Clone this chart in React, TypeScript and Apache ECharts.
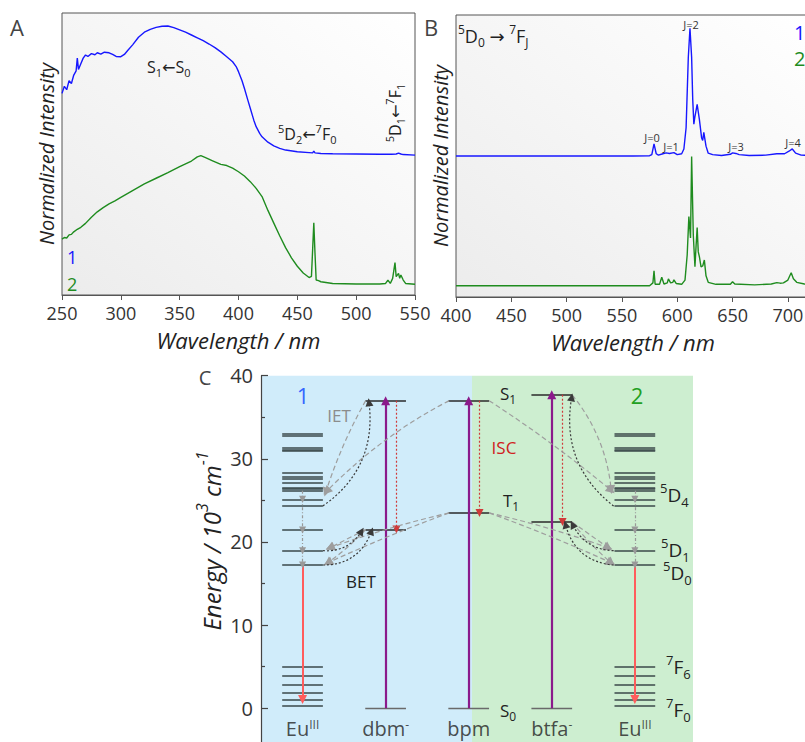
import { useEffect, useRef } from "react";
import * as echarts from "echarts";

// ---------- Panel A: excitation spectra ----------
const excNm1 = [250, 252, 254, 256, 258, 260, 262, 263, 264, 266, 268, 270, 272, 275, 278, 280, 283, 286, 290, 293, 296, 300, 303, 306, 310, 315, 320, 325, 330, 335, 340, 345, 350, 355, 360, 365, 370, 375, 380, 385, 390, 395, 398, 400, 403, 405, 408, 410, 413, 415, 418, 420, 425, 430, 435, 440, 450, 460, 463, 464, 465, 470, 480, 500, 520, 530, 534, 536, 538, 540, 550];
const excI1 = [71.5, 74.0, 72.8, 76.0, 75.0, 78.0, 79.5, 84.0, 80.0, 82.0, 84.0, 85.1, 84.6, 85.6, 85.2, 85.9, 85.4, 86.1, 85.9, 85.3, 84.6, 84.5, 85.3, 86.8, 88.7, 91.4, 93.2, 94.2, 94.9, 95.3, 95.4, 94.8, 94.0, 93.2, 92.2, 91.2, 90.2, 89.0, 87.7, 86.2, 84.5, 82.7, 81.0, 79.2, 76.0, 73.3, 69.0, 66.2, 62.0, 59.7, 57.3, 56.1, 54.2, 52.9, 52.0, 51.4, 50.8, 50.5, 50.4, 51.0, 50.4, 50.2, 50.1, 50.0, 49.9, 49.9, 50.0, 50.3, 50.0, 49.8, 49.6];
const excNm2 = [250, 252, 254, 256, 258, 260, 263, 266, 270, 275, 280, 285, 290, 295, 300, 310, 320, 330, 340, 350, 360, 365, 368, 372, 378, 385, 390, 395, 400, 405, 410, 415, 420, 425, 430, 435, 440, 445, 450, 455, 460, 462, 463, 464, 465, 466, 468, 470, 480, 500, 520, 525, 527, 529, 531, 533, 534, 536, 537, 538, 540, 542, 550];
const excI2 = [19.8, 20.4, 20.2, 21.3, 21.5, 22.4, 23.3, 24.0, 25.4, 27.6, 29.5, 31.0, 32.3, 33.4, 34.6, 37.0, 39.4, 41.4, 43.4, 45.5, 47.5, 49.0, 49.4, 48.7, 47.6, 46.3, 45.9, 45.0, 43.7, 42.2, 40.2, 37.8, 34.9, 30.0, 25.5, 21.0, 16.8, 13.2, 10.2, 7.8, 6.2, 6.6, 16.0, 25.6, 14.9, 5.3, 5.1, 4.7, 4.1, 3.9, 3.9, 4.1, 5.3, 4.1, 5.9, 11.5, 6.5, 7.7, 5.9, 7.1, 5.3, 4.1, 3.8];

// ---------- Panel B: emission spectra ----------
const emNm1 = [400, 560, 575, 577, 579, 581, 583, 587, 590, 593, 597, 600, 604, 606, 608, 610, 611.5, 613, 614, 615, 616, 618, 620, 622, 623, 624, 626, 628, 632, 640, 648, 650, 653, 656, 665, 680, 690, 697, 701, 704, 707, 712, 720];
const emI1 = [50.0, 50.0, 50.1, 50.5, 54.3, 50.8, 50.3, 50.8, 51.1, 50.9, 51.2, 50.5, 50.8, 52.5, 60.0, 85.0, 95.3, 85.0, 70.0, 61.3, 64.0, 68.3, 63.0, 56.5, 55.5, 58.4, 53.5, 51.0, 50.5, 50.2, 50.6, 51.1, 50.9, 50.5, 50.2, 50.3, 50.8, 50.8, 51.7, 52.5, 51.0, 50.3, 50.2];
const emNm2 = [400, 575, 578, 579, 580, 584, 586, 588, 591, 592, 594, 596, 597, 599, 604, 607, 609, 610.5, 612, 613, 614.5, 616, 617, 618, 619, 620, 621.5, 623, 624.5, 626, 628, 635, 648, 650, 652, 670, 685, 690, 693, 696, 700, 703, 705, 708, 715, 720];
const emI2 = [4.0, 4.0, 5.0, 9.3, 4.5, 4.5, 7.0, 4.6, 5.0, 6.4, 5.0, 5.2, 6.1, 4.8, 4.5, 6.0, 15.0, 28.5, 20.9, 49.8, 22.0, 10.7, 18.0, 24.6, 16.0, 14.3, 10.7, 11.0, 13.1, 7.5, 5.2, 4.5, 4.5, 5.4, 4.6, 4.3, 4.6, 5.1, 4.9, 5.0, 6.0, 8.6, 6.5, 5.2, 4.6, 4.3];

const jLabels = ["J=0", "J=1", "J=2", "J=3", "J=4"];
const xTicksA = [250, 300, 350, 400, 450, 500, 550];
const xTicksB = [400, 450, 500, 550, 600, 650, 700];

// ---------- Panel C: energy level diagram (10^3 cm^-1) ----------
const columnX = [1, 3, 5, 7, 9];
const columnLabels = ["Eu{sup|III}", "dbm{sup|-}", "bpm", "btfa{sup|-}", "Eu{sup|III}"];
const euLevels = [33.07, 32.83, 31.3, 31.15, 30.94, 28.33, 27.85, 27.61, 27.13, 26.58, 26.37, 26.17, 25.13, 24.33, 21.44, 18.96, 17.23, 5.0, 3.92, 2.84, 1.88, 1.04, 0.31];
const euColumns = [1, 9];
const ligandX = [3, 5, 7];
const ligandS1 = [37.0, 37.0, 37.7];
const ligandT1 = [21.5, 23.5, 22.4];
const ligandS0 = [0, 0, 0];
const euCascade = [26.17, 25.13, 21.44, 18.96, 17.23];
const euEmissionFrom = 17.23;
const euEmissionTo = 1.04;
// [x1, y1, x2, y2, curveness]
const ietArrows = [
  [2.52, 37.0, 1.56, 26.0, -0.05],
  [4.53, 37.0, 1.58, 26.1, -0.08],
  [2.52, 21.5, 1.66, 19.3, 0.0],
  [2.52, 21.5, 1.61, 17.5, 0.05],
  [4.53, 23.5, 1.66, 19.3, -0.03],
  [4.53, 23.5, 1.61, 17.5, -0.02],
  [7.49, 37.7, 8.43, 26.3, 0.15],
  [5.49, 37.0, 8.43, 26.2, 0.03],
  [7.49, 22.4, 8.36, 19.3, 0.0],
  [7.49, 22.4, 8.43, 17.5, -0.05],
  [5.49, 23.5, 8.36, 19.3, 0.03],
  [5.49, 23.5, 8.43, 17.5, 0.02],
];
const betArrows = [
  [1.49, 24.33, 2.6, 36.8, -0.3],
  [1.49, 18.96, 2.42, 21.3, -0.3],
  [1.49, 17.23, 2.66, 21.3, -0.35],
  [8.49, 24.33, 7.48, 37.4, 0.3],
  [8.49, 18.96, 7.5, 22.1, 0.3],
  [8.49, 17.23, 7.33, 22.1, 0.35],
];

const FONT = "'Open Sans', 'DejaVu Sans', sans-serif";
const BLUE = "#1717ff";
const GREEN = "#1f8c1f";

const zip = (xs: number[], ys: number[]) => xs.map((x, i) => [x, ys[i]]);

const rich = (size: number, italic: boolean) => {
  const fs = italic ? "italic" : "normal";
  return {
    n: { fontSize: size, lineHeight: Math.round(size * 1.4), fontFamily: FONT, fontStyle: fs },
    sub: { fontSize: Math.round(size * 0.68), lineHeight: Math.round(size * 0.75), verticalAlign: "bottom", fontFamily: FONT, fontStyle: fs },
    sup: { fontSize: Math.round(size * 0.68), lineHeight: Math.round(size * 0.75), verticalAlign: "top", fontFamily: FONT, fontStyle: fs },
  };
};

function T(x: number, y: number, text: string, size: number, color: string, align = "left", rotation = 0, italic = false) {
  return {
    type: "text",
    x,
    y,
    rotation,
    z: 50,
    style: {
      text,
      fill: color,
      fontSize: size,
      fontFamily: FONT,
      fontStyle: italic ? "italic" : "normal",
      align,
      verticalAlign: "middle",
      rich: rich(size, italic),
    },
  };
}

export default function App() {
  const ref = useRef<HTMLDivElement>(null);
  useEffect(() => {
    if (!ref.current) return;
    const chart = echarts.init(ref.current, undefined, { renderer: "svg" });
    const mkBg = () =>
      new echarts.graphic.LinearGradient(0, 1, 1, 0, [
        { offset: 0, color: "#ececec" },
        { offset: 1, color: "#ffffff" },
      ]);
    const spectrumX = (grid: number, min: number, max: number, ticks: number[]) => ({
      type: "value",
      gridIndex: grid,
      min,
      max,
      interval: 50,
      axisLine: { show: true, lineStyle: { color: "#555", width: 1 } },
      axisTick: { show: true, inside: false, length: 5, lineStyle: { color: "#555" } },
      axisLabel: {
        color: "#333",
        fontSize: 18,
        fontFamily: FONT,
        margin: 9,
        showMaxLabel: ticks.indexOf(max) >= 0,
        formatter: (v: number) => (ticks.indexOf(v) >= 0 ? String(v) : ""),
      },
      splitLine: { show: false },
      name: "Wavelength / nm",
      nameLocation: "middle",
      nameGap: 34,
      nameTextStyle: { fontSize: 22, fontStyle: "italic", color: "#222", fontFamily: FONT },
    });
    const spectrumY = (grid: number) => ({
      type: "value",
      gridIndex: grid,
      min: 0,
      max: 100,
      axisLine: { show: false },
      axisTick: { show: false },
      axisLabel: { show: false },
      splitLine: { show: false },
      name: "Normalized Intensity",
      nameLocation: "middle",
      nameRotate: 90,
      nameGap: 6,
      nameTextStyle: { fontSize: 20, fontStyle: "italic", color: "#222", fontFamily: FONT },
    });

    const cLines = (name: string, data: any[], lineStyle: any, symbol: any, symbolSize: any, z = 10) => ({
      type: "lines",
      name,
      coordinateSystem: "cartesian2d",
      xAxisIndex: 2,
      yAxisIndex: 2,
      z,
      silent: true,
      symbol,
      symbolSize,
      lineStyle: { opacity: 1, ...lineStyle },
      data,
    });

    const levelData: any[] = [];
    euColumns.forEach((c) =>
      euLevels.forEach((e) => levelData.push({ coords: [[c - 0.49, e], [c + 0.49, e]] }))
    );
    const ligandData: any[] = [];
    const s0Data: any[] = [];
    ligandX.forEach((c, i) => {
      ligandData.push({ coords: [[c - 0.49, ligandS1[i]], [c + 0.49, ligandS1[i]]] });
      ligandData.push({ coords: [[c - 0.49, ligandT1[i]], [c + 0.49, ligandT1[i]]] });
      s0Data.push({ coords: [[c - 0.49, ligandS0[i]], [c + 0.49, ligandS0[i]]] });
    });
    const purple = ligandX.map((c, i) => ({ coords: [[c, ligandS0[i]], [c, ligandS1[i]]] }));
    const isc = ligandX.map((c, i) => ({ coords: [[c + 0.26, ligandS1[i]], [c + 0.26, ligandT1[i]]] }));
    const emis = euColumns.map((c) => ({ coords: [[c, euEmissionFrom], [c, euEmissionTo]] }));
    const cascade: any[] = [];
    euColumns.forEach((c) => {
      for (let k = 0; k < euCascade.length - 1; k++)
        cascade.push({ coords: [[c, euCascade[k]], [c, euCascade[k + 1]]] });
    });
    const iet = ietArrows.map((a) => ({ coords: [[a[0], a[1]], [a[2], a[3]]], lineStyle: { curveness: a[4] } }));
    const bet = betArrows.map((a) => ({ coords: [[a[0], a[1]], [a[2], a[3]]], lineStyle: { curveness: a[4] } }));

    const option: any = {
      animation: false,
      backgroundColor: "#ffffff",
      textStyle: { fontFamily: FONT },
      grid: [
        { left: 62, top: 13, width: 353, height: 282, show: true, borderColor: "#555", borderWidth: 1, backgroundColor: mkBg(), containLabel: false, outerBoundsMode: "none" },
        { left: 456, top: 15, width: 354, height: 282, show: true, borderColor: "#555", borderWidth: 1, backgroundColor: mkBg(), containLabel: false, outerBoundsMode: "none" },
        { left: 261, top: 375.7, width: 432, height: 415.7, show: false, containLabel: false, outerBoundsMode: "none" },
      ],
      xAxis: [
        spectrumX(0, 250, 550, xTicksA),
        spectrumX(1, 400, 720, xTicksB),
        { type: "value", gridIndex: 2, min: 0, max: 10.4, show: false },
      ],
      yAxis: [
        spectrumY(0),
        spectrumY(1),
        {
          type: "value",
          gridIndex: 2,
          min: -10,
          max: 40,
          interval: 10,
          z: 20,
          axisLine: { show: true, lineStyle: { color: "#444", width: 1.2 } },
          axisTick: { show: true, inside: true, length: 7, lineStyle: { color: "#444", width: 1.2 } },
          minorTick: { show: true, splitNumber: 2, length: 4, lineStyle: { color: "#444", width: 1.2 } },
          axisLabel: {
            color: "#333",
            fontSize: 20,
            fontFamily: FONT,
            margin: 8,
            formatter: (v: number) => (v < 0 ? "" : String(v)),
          },
          splitLine: { show: false },
        },
      ],
      series: [
        { type: "line", xAxisIndex: 0, yAxisIndex: 0, data: zip(excNm1, excI1), symbol: "none", lineStyle: { color: BLUE, width: 1.4 }, silent: true },
        { type: "line", xAxisIndex: 0, yAxisIndex: 0, data: zip(excNm2, excI2), symbol: "none", lineStyle: { color: GREEN, width: 1.4 }, silent: true },
        { type: "line", xAxisIndex: 1, yAxisIndex: 1, data: zip(emNm1, emI1), symbol: "none", lineStyle: { color: BLUE, width: 1.4 }, silent: true, clip: true },
        { type: "line", xAxisIndex: 1, yAxisIndex: 1, data: zip(emNm2, emI2), symbol: "none", lineStyle: { color: GREEN, width: 1.4 }, silent: true, clip: true },
        {
          type: "scatter",
          xAxisIndex: 2,
          yAxisIndex: 2,
          z: 12,
          silent: true,
          symbolSize: 1,
          itemStyle: { color: "transparent" },
          data: columnX.map((c) => [c, -2.4]),
          label: {
            show: true,
            position: "inside",
            color: "#222",
            fontSize: 20,
            fontFamily: FONT,
            formatter: (p: any) => columnLabels[p.dataIndex],
            rich: {
              sup: { fontSize: 12, verticalAlign: "top", lineHeight: 12, fontFamily: FONT, color: "#222" },
            },
          },
          markArea: {
            silent: true,
            data: [
              [{ xAxis: 0, yAxis: -10, itemStyle: { color: "#d0ecfa", opacity: 1 } }, { xAxis: 5.08, yAxis: 40 }],
              [{ xAxis: 5.08, yAxis: -10, itemStyle: { color: "#cdeed0", opacity: 1 } }, { xAxis: 10.4, yAxis: 40 }],
            ],
          },
        },
        cLines("euLevels", levelData, { color: "#3a484a", width: 1.6 }, "none", 0),
        cLines("ligandLevels", ligandData, { color: "#2a2a2a", width: 1.5 }, "none", 0),
        cLines("s0", s0Data, { color: "#6a6a6a", width: 1.3 }, "none", 0),
        cLines("absorption", purple, { color: "#8b1a8b", width: 2.2 }, ["none", "triangle"], 9, 11),
        cLines("isc", isc, { color: "#d03a3a", width: 1.2, type: [2, 2] }, ["none", "triangle"], 8, 11),
        cLines("emission", emis, { color: "#ff5c5c", width: 2 }, ["none", "triangle"], 9, 11),
        cLines("cascade", cascade, { color: "#999999", width: 1.2, type: [3, 2, 1, 2] }, ["none", "triangle"], 7, 11),
        cLines("iet", iet, { color: "#9e9e9e", width: 1.2, type: [5, 3] }, ["none", "triangle"], 9, 11),
        cLines("bet", bet, { color: "#3a3a3a", width: 1.2, type: [2, 2] }, ["none", "triangle"], 8, 11),
      ],
      graphic: [
        T(17, 27, "A", 22, "#444", "center"),
        T(431, 27, "B", 22, "#444", "center"),
        T(205, 377, "C", 20, "#444", "center"),
        T(147, 67, "{n|S}{sub|1}{n|←S}{sub|0}", 16, "#222"),
        T(278, 134, "{sup|5}{n|D}{sub|2}{n|←}{sup|7}{n|F}{sub|0}", 16, "#222"),
        T(395, 113, "{sup|5}{n|D}{sub|1}{n|←}{sup|7}{n|F}{sub|1}", 16, "#222", "center", Math.PI / 2),
        T(67, 257, "1", 18, BLUE),
        T(67, 284, "2", 18, GREEN),
        T(458, 36, "{sup|5}{n|D}{sub|0}{n| → }{sup|7}{n|F}{sub|J}", 18, "#222"),
        T(652, 137, jLabels[0], 11, "#333", "center"),
        T(671, 146, jLabels[1], 11, "#333", "center"),
        T(691, 24, jLabels[2], 11, "#333", "center"),
        T(736, 146, jLabels[3], 11, "#333", "center"),
        T(793, 142, jLabels[4], 11, "#333", "center"),
        T(794, 32, "1", 20, BLUE),
        T(794, 58, "2", 20, GREEN),
        T(211, 541, "{n|Energy / 10}{sup|3}{n| cm}{sup|-1}", 24, "#222", "center", Math.PI / 2, true),
        T(303, 395, "1", 22, "#3366ff", "center"),
        T(637, 395, "2", 22, "#22a022", "center"),
        T(339, 415, "IET", 17, "#8c8c8c", "center"),
        T(361, 581, "BET", 17, "#222", "center"),
        T(504, 447, "ISC", 17, "#d02020", "center"),
        T(500, 393, "{n|S}{sub|1}", 17, "#222"),
        T(503, 500, "{n|T}{sub|1}", 17, "#222"),
        T(500, 710, "{n|S}{sub|0}", 17, "#222"),
        T(660, 495, "{sup|5}{n|D}{sub|4}", 19, "#222"),
        T(661, 550, "{sup|5}{n|D}{sub|1}", 19, "#222"),
        T(663, 573, "{sup|5}{n|D}{sub|0}", 19, "#222"),
        T(666, 667, "{sup|7}{n|F}{sub|6}", 19, "#222"),
        T(666, 710, "{sup|7}{n|F}{sub|0}", 19, "#222"),
      ],
    };
    chart.setOption(option);
    return () => chart.dispose();
  }, []);
  return (
    <div
      ref={ref}
      style={{ position: "absolute", left: 0, top: 0, width: 805, height: 742, overflow: "hidden" }}
    />
  );
}
